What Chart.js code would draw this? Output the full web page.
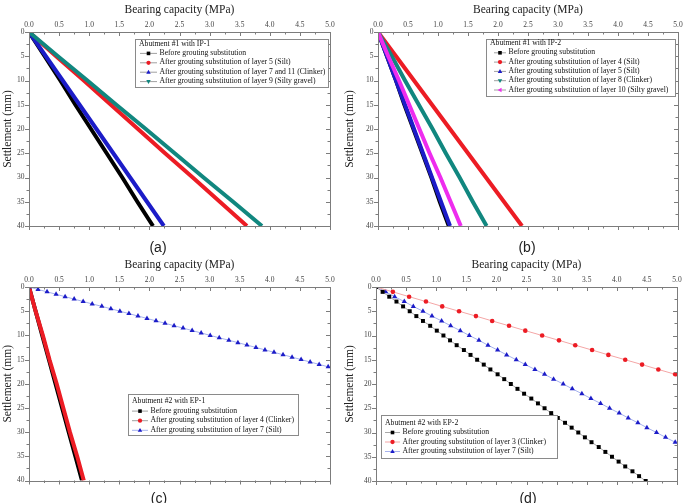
<!DOCTYPE html>
<html>
<head>
<meta charset="utf-8">
<script src="https://cdn.jsdelivr.net/npm/chart.js@4.4.1/dist/chart.umd.min.js"></script>
<style>
  body { margin: 0; background: #fff; width: 684px; height: 503px; overflow: hidden; position: relative; }
  canvas { position: absolute; }
  .cap { position: absolute; font: 14px "Liberation Sans", Arial, sans-serif; color: #222; transform: translate(-50%, -50%); }
</style>
</head>
<body>
<canvas id="ca" width="342" height="255" style="left:0;top:0"></canvas>
<canvas id="cb" width="342" height="255" style="left:342px;top:0"></canvas>
<canvas id="cc" width="342" height="248" style="left:0;top:255px"></canvas>
<canvas id="cd" width="342" height="248" style="left:342px;top:255px"></canvas>
<div class="cap" style="left:158px;top:247px">(a)</div>
<div class="cap" style="left:527px;top:247px">(b)</div>
<div class="cap" style="left:159px;top:498px">(c)</div>
<div class="cap" style="left:528px;top:498px">(d)</div>
<script>
// settlement levels (mm) used for the dense curves
const settle5 = [0, 5, 10, 15, 20, 25, 30, 35, 40];

// (a) Abutment #1 with IP-1 - bearing capacity (MPa)
const aBefore = [0, 0.26, 0.52, 0.77, 1.03, 1.29, 1.55, 1.80, 2.06];
const aLayer5 = [0, 0.45, 0.91, 1.36, 1.81, 2.26, 2.72, 3.17, 3.62];
const aLayer711 = [0, 0.28, 0.56, 0.84, 1.12, 1.40, 1.68, 1.96, 2.24];
const aLayer9 = [0, 0.48, 0.97, 1.45, 1.94, 2.42, 2.90, 3.39, 3.87];

// (b) Abutment #1 with IP-2
const bBefore = [0, 0.15, 0.30, 0.44, 0.59, 0.74, 0.89, 1.03, 1.18];
const bLayer4 = [0, 0.30, 0.60, 0.90, 1.20, 1.50, 1.80, 2.10, 2.40];
const bLayer5 = [0, 0.15, 0.30, 0.45, 0.60, 0.75, 0.90, 1.05, 1.20];
const bLayer8 = [0, 0.23, 0.45, 0.68, 0.91, 1.13, 1.36, 1.58, 1.81];
const bLayer10 = [0, 0.17, 0.35, 0.52, 0.69, 0.86, 1.04, 1.21, 1.38];

// (c) Abutment #2 with EP-1
const cBefore = [0, 0.11, 0.22, 0.33, 0.44, 0.55, 0.66, 0.77, 0.88];
const cLayer4 = [0, 0.11, 0.23, 0.34, 0.46, 0.57, 0.68, 0.80, 0.91];
const settleC7 = [0, 0.5, 1, 1.5, 2, 2.5, 3, 3.5, 4, 4.5, 5, 5.5, 6, 6.5, 7, 7.5, 8, 8.5,
  9, 9.5, 10, 10.5, 11, 11.5, 12, 12.5, 13, 13.5, 14, 14.5, 15, 15.5, 16, 16.5];
const cLayer7 = [0, 0.15, 0.30, 0.45, 0.60, 0.75, 0.90, 1.05, 1.21, 1.36, 1.51, 1.66, 1.81,
  1.96, 2.11, 2.26, 2.41, 2.56, 2.71, 2.86, 3.01, 3.16, 3.32, 3.47, 3.62, 3.77, 3.92, 4.07,
  4.22, 4.37, 4.52, 4.67, 4.82, 4.97];

// (d) Abutment #2 with EP-2 (one point per mm)
const settleD = [0, 1, 2, 3, 4, 5, 6, 7, 8, 9, 10, 11, 12, 13, 14, 15, 16, 17, 18, 19, 20,
  21, 22, 23, 24, 25, 26, 27, 28, 29, 30, 31, 32, 33, 34, 35, 36, 37, 38, 39, 40];
const dBefore = [0, 0.11, 0.22, 0.34, 0.45, 0.56, 0.67, 0.78, 0.90, 1.01, 1.12, 1.23, 1.34,
  1.46, 1.57, 1.68, 1.79, 1.90, 2.02, 2.13, 2.24, 2.35, 2.46, 2.58, 2.69, 2.80, 2.91, 3.02,
  3.14, 3.25, 3.36, 3.47, 3.58, 3.70, 3.81, 3.92, 4.03, 4.14, 4.26, 4.37, 4.48];
const dLayer3 = [0, 0.28, 0.55, 0.83, 1.10, 1.38, 1.66, 1.93, 2.21, 2.48, 2.76, 3.04, 3.31,
  3.59, 3.86, 4.14, 4.42, 4.69, 4.97];
const dLayer7 = [0, 0.16, 0.31, 0.47, 0.62, 0.78, 0.93, 1.09, 1.24, 1.40, 1.55, 1.71, 1.86,
  2.02, 2.17, 2.33, 2.48, 2.64, 2.80, 2.95, 3.11, 3.26, 3.42, 3.57, 3.73, 3.88, 4.04, 4.19,
  4.35, 4.50, 4.66, 4.81, 4.97];

const xTicks = [0, 0.5, 1, 1.5, 2, 2.5, 3, 3.5, 4, 4.5, 5];
const yTicks = [0, 5, 10, 15, 20, 25, 30, 35, 40];

const BLACK = "#000000", RED = "#ec1c24", BLUE = "#1c1cc8", TEAL = "#11877f", MAGENTA = "#ee2cee";

Chart.defaults.font.family = '"Liberation Serif", "Times New Roman", serif';

// pair bearing values with settlements
const pts = (xs, ys) => xs.map((v, i) => ({ x: v, y: ys[i] }));

function drawMarker(ctx, style, rot, x, y, r, color) {
  ctx.save();
  ctx.translate(x, y);
  ctx.rotate((rot || 0) * Math.PI / 180);
  ctx.fillStyle = color;
  ctx.beginPath();
  if (style === "rect") {
    ctx.rect(-r * 0.75, -r * 0.75, r * 1.5, r * 1.5);
  } else if (style === "circle") {
    ctx.arc(0, 0, r * 0.9, 0, Math.PI * 2);
  } else {
    ctx.moveTo(0, -r);
    ctx.lineTo(r * 0.95, r * 0.65);
    ctx.lineTo(-r * 0.95, r * 0.65);
    ctx.closePath();
  }
  ctx.fill();
  ctx.restore();
}

//box around the plot with small ticks
const frame = {
  id: "frame",
  afterDatasetsDraw(chart) {
    const { ctx, chartArea: a, scales } = chart;
    ctx.save();
    ctx.strokeStyle = "#7c7c7c";
    ctx.lineWidth = 1;
    ctx.strokeRect(Math.round(a.left) + 0.5, Math.round(a.top) + 0.5,
      Math.round(a.right - a.left), Math.round(a.bottom - a.top));
    ctx.beginPath();
    for (let i = 0; i <= 20; i++) {
      const px = Math.round(scales.x.getPixelForValue(i * 0.25)) + 0.5;
      const len = i % 2 === 0 ? 4 : 2.5;
      ctx.moveTo(px, a.top); ctx.lineTo(px, a.top + len);
      ctx.moveTo(px, a.bottom); ctx.lineTo(px, a.bottom + len);
    }
    for (let i = 0; i <= 16; i++) {
      const py = Math.round(scales.y.getPixelForValue(i * 2.5)) + 0.5;
      const len = i % 2 === 0 ? 4 : 2.5;
      ctx.moveTo(a.left - len, py); ctx.lineTo(a.left, py);
      ctx.moveTo(a.right - len, py); ctx.lineTo(a.right, py);
    }
    ctx.stroke();
    ctx.restore();
  }
};

//Origin style legend box: short line with marker, then text
const boxLegend = {
  id: "boxLegend",
  afterDraw(chart, args, o) {
    if (!o || !o.title) return;
    const ctx = chart.ctx;
    ctx.save();
    ctx.fillStyle = "#fff";
    ctx.fillRect(o.x, o.y, o.w, o.h);
    ctx.strokeStyle = "#8a8a8a";
    ctx.lineWidth = 1;
    ctx.strokeRect(o.x + 0.5, o.y + 0.5, o.w, o.h);
    ctx.font = '7.7px "Liberation Serif", serif';
    ctx.textBaseline = "middle";
    ctx.fillStyle = "#111";
    ctx.fillText(o.title, o.x + 4, o.y + o.first);
    chart.data.datasets.forEach((ds, i) => {
      const cy = o.y + o.first + o.row * (i + 1);
      const lx = o.x + o.indent;
      ctx.strokeStyle = ds.legendLine;
      ctx.lineWidth = 1;
      ctx.beginPath();
      ctx.moveTo(lx, cy + 0.5);
      ctx.lineTo(lx + o.line, cy + 0.5);
      ctx.stroke();
      drawMarker(ctx, ds.pointStyle, ds.pointRotation, lx + o.line / 2, cy + 0.5, 2.4, ds.pointBackgroundColor);
      ctx.fillStyle = "#111";
      ctx.fillText(ds.label, lx + o.line + 2.5, cy);
    });
    ctx.restore();
  }
};

// thick curve (the original has a marker at every step, so they merge into a band)
function dense(label, xs, ys, color, style, rot, order) {
  return {
    label, data: pts(xs, ys), borderColor: color, borderWidth: 4, pointRadius: 0,
    pointStyle: style, pointRotation: rot, pointBackgroundColor: color,
    legendLine: "#a0a0a0", order
  };
}

// thin line with separate markers
function marked(label, xs, ys, color, lineColor, style, radius) {
  return {
    label, data: pts(xs, ys), borderColor: lineColor, borderWidth: 1,
    pointStyle: style, pointRadius: radius, pointBorderWidth: 0,
    pointBackgroundColor: color, pointBorderColor: color, legendLine: lineColor
  };
}

function makePanel(id, pad, datasets, legend) {
  return new Chart(document.getElementById(id), {
    type: "line",
    data: { datasets },
    options: {
      responsive: false,
      animation: false,
      devicePixelRatio: 1,
      layout: { padding: { left: 0, top: 0, right: pad.right, bottom: pad.bottom } },
      plugins: { legend: { display: false }, tooltip: { enabled: false }, boxLegend: legend },
      scales: {
        x: {
          type: "linear", position: "top", min: 0, max: 5,
          grid: { display: false, drawTicks: false },
          border: { display: false },
          afterBuildTicks: s => { s.ticks = xTicks.map(v => ({ value: v })); },
          ticks: { autoSkip: false, maxRotation: 0, padding: 2, color: "#444", font: { size: 7.5 },
            callback: v => v.toFixed(1) },
          title: { display: true, text: "Bearing capacity (MPa)", color: "#222",
            font: { size: 11.5 }, padding: { top: 3.5, bottom: 0 } },
          afterFit: s => { s.height = 32; s.paddingLeft = 0; s.paddingRight = 0; }
        },
        y: {
          type: "linear", reverse: true, min: 0, max: 40,
          grid: { display: false, drawTicks: false },
          border: { display: false },
          afterBuildTicks: s => { s.ticks = yTicks.map(v => ({ value: v })); },
          ticks: { autoSkip: false, padding: 4.5, color: "#444", font: { size: 7.5 } },
          title: { display: true, text: "Settlement (mm)", color: "#222",
            font: { size: 11.5 }, padding: { top: 1, bottom: 0 } },
          afterFit: s => { s.width = pad.left; s.paddingTop = 0; s.paddingBottom = 0; }
        }
      }
    },
    plugins: [frame, boxLegend]
  });
}

makePanel("ca", { left: 29, right: 12, bottom: 29 }, [
  dense("Before grouting substitution", aBefore, settle5, BLACK, "rect", 0, 4),
  dense("After grouting substitution of layer 5 (Silt)", aLayer5, settle5, RED, "circle", 0, 3),
  dense("After grouting substitution of layer 7 and 11 (Clinker)", aLayer711, settle5, BLUE, "triangle", 0, 2),
  dense("After grouting substitution of layer 9 (Silty gravel)", aLayer9, settle5, TEAL, "triangle", 180, 1)
], { title: "Abutment #1 with IP-1", x: 135, y: 39, w: 193, h: 48, first: 4.5, row: 9.4, indent: 5, line: 17 });

makePanel("cb", { left: 36, right: 6, bottom: 29 }, [
  dense("Before grouting substitution", bBefore, settle5, BLACK, "rect", 0, 5),
  dense("After grouting substitution of layer 4 (Silt)", bLayer4, settle5, RED, "circle", 0, 4),
  dense("After grouting substitution of layer 5 (Silt)", bLayer5, settle5, BLUE, "triangle", 0, 3),
  dense("After grouting substitution of layer 8 (Clinker)", bLayer8, settle5, TEAL, "triangle", 180, 2),
  dense("After grouting substitution of layer 10 (Silty gravel)", bLayer10, settle5, MAGENTA, "triangle", -90, 1)
], { title: "Abutment #1 with IP-2", x: 144, y: 39, w: 189, h: 57, first: 4, row: 9.3, indent: 8, line: 12 });

makePanel("cc", { left: 29, right: 12, bottom: 22.5 }, [
  dense("Before grouting substitution", cBefore, settle5, BLACK, "rect", 0, 2),
  dense("After grouting substitution of layer 4 (Clinker)", cLayer4, settle5, RED, "circle", 0, 1),
  marked("After grouting substitution of layer 7 (Silt)", cLayer7, settleC7, BLUE, "#a6b2ee", "triangle", 3)
], { title: "Abutment #2 with EP-1", x: 128, y: 139, w: 170, h: 41, first: 7, row: 9.6, indent: 4, line: 16 });

makePanel("cd", { left: 34, right: 7, bottom: 22 }, [
  marked("Before grouting substitution", dBefore, settleD, BLACK, "#a8a8a8", "rect", 2.8),
  marked("After grouting substitution of layer 3 (Clinker)", dLayer3, settleD, RED, "#f4a6a6", "circle", 2.3),
  marked("After grouting substitution of layer 7 (Silt)", dLayer7, settleD, BLUE, "#a6b2ee", "triangle", 3)
], { title: "Abutment #2 with EP-2", x: 39, y: 160, w: 176, h: 43, first: 7.5, row: 9.5, indent: 4, line: 15 });
</script>
</body>
</html>
